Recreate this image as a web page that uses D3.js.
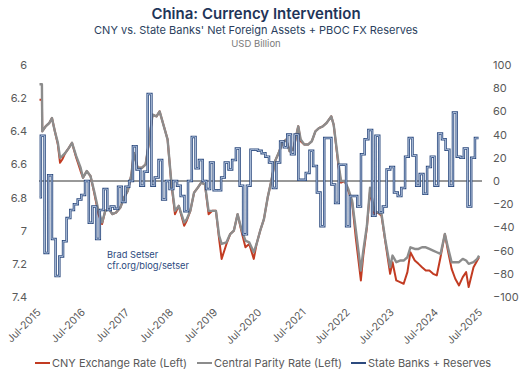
<!DOCTYPE html>
<html><head><meta charset="utf-8">
<script src="https://cdn.jsdelivr.net/npm/d3@7"></script>
<style>
body{margin:0;background:#fff}
svg{display:block}
text{font-family:Inter,'Noto Sans',sans-serif}
</style>
</head><body>
<svg id="chart" width="520" height="378"></svg>
<script>
// ---- Data ----
// State Banks + Reserves, monthly (USD bn), Jul-2015 .. Jun-2025
const blueValues = [
 -14, 39, -62, 5, -50, -82, -65, -52, -32, -25, -20, -16,
 -12, 0, -36, -22, -50, -25, -7, -25, -22, -24, -5, -18,
 -5, 0, 30, 10, -4, 8, 75, -4, 3, 18, -16, 0,
 -7, 0, -4, -13, -26, 0, 38, 11, 18, 0, -7, 16,
 -8, -8, 3, 16, 10, 18, 28, -4, -46, -4, 27, 27,
 26, 24, 21, 16, -6, 16, 34, 29, 40, 23, 40, 1,
 1, 7, 26, 13, -10, -39, 37, 37, -3, -19, 14, 14,
 -39, -13, -13, -22, 23, 36, 44, -30, 39, -27, -22, 10,
 12, -10, -13, -6, 21, 37, 22, -4, 6, -11, 12, 21,
 -4, 41, 36, 27, -4, 59, 21, 20, 28, -22, 20, 37
];
const blueStart = "2015-07-21";
const blueEnd = "2025-07-01";

// CNY exchange rate and central parity (CNY per USD)
const fxDates = [
 "2015-07-21","2015-08-10","2015-08-13","2015-09-10","2015-10-10","2015-11-01","2015-11-25","2015-12-20",
 "2016-01-07","2016-01-25","2016-02-20","2016-03-20","2016-04-15","2016-05-20","2016-06-25","2016-07-15",
 "2016-08-15","2016-09-15","2016-10-15","2016-11-20","2016-12-20","2017-01-15","2017-02-15","2017-03-15",
 "2017-04-15","2017-05-20","2017-06-20","2017-07-20","2017-08-20","2017-09-08","2017-10-10","2017-11-15",
 "2017-12-15","2018-01-15","2018-02-10","2018-03-15","2018-04-10","2018-05-15","2018-06-15","2018-07-15",
 "2018-08-15","2018-09-15","2018-10-30","2018-11-20","2018-12-20","2019-01-20","2019-02-20","2019-03-20",
 "2019-04-20","2019-05-20","2019-06-20","2019-07-20","2019-08-15","2019-09-05","2019-10-15","2019-11-15",
 "2019-12-15","2020-01-15","2020-02-15","2020-03-20","2020-04-20","2020-05-28","2020-06-20","2020-07-20",
 "2020-08-20","2020-09-20","2020-10-20","2020-11-20","2020-12-20","2021-01-20","2021-02-20","2021-03-20",
 "2021-04-20","2021-05-31","2021-06-20","2021-07-20","2021-08-20","2021-09-20","2021-10-20","2021-11-20",
 "2021-12-20","2022-01-20","2022-02-28","2022-03-20","2022-04-30","2022-05-20","2022-06-20","2022-07-20",
 "2022-08-20","2022-09-20","2022-10-31","2022-11-20","2022-12-20","2023-01-15","2023-02-20","2023-03-20",
 "2023-04-20","2023-05-20","2023-06-30","2023-07-20","2023-08-20","2023-09-20","2023-10-20","2023-11-20",
 "2023-12-15","2024-01-20","2024-02-20","2024-03-20","2024-04-20","2024-05-20","2024-06-20","2024-07-20",
 "2024-08-20","2024-09-25","2024-10-20","2024-11-20","2024-12-20","2025-01-20","2025-02-20","2025-03-20",
 "2025-04-10","2025-05-20","2025-06-20","2025-07-05"
];
const parityRate = [
 6.116,6.116,6.40,6.37,6.35,6.32,6.40,6.47,
 6.56,6.55,6.53,6.50,6.47,6.55,6.62,6.68,
 6.64,6.67,6.76,6.88,6.95,6.88,6.87,6.90,
 6.89,6.86,6.80,6.76,6.66,6.53,6.62,6.62,
 6.60,6.45,6.30,6.31,6.28,6.37,6.45,6.70,
 6.88,6.85,6.95,6.93,6.88,6.77,6.74,6.71,
 6.72,6.88,6.88,6.88,7.03,7.08,7.07,7.02,
 7.00,6.90,6.99,7.06,7.07,7.13,7.08,7.00,
 6.93,6.80,6.70,6.58,6.53,6.47,6.45,6.52,
 6.51,6.37,6.45,6.48,6.48,6.46,6.40,6.38,
 6.37,6.35,6.31,6.36,6.60,6.70,6.70,6.75,
 6.82,7.00,7.24,7.12,6.97,6.74,6.88,6.89,
 6.90,7.05,7.22,7.15,7.19,7.18,7.18,7.16,
 7.10,7.11,7.11,7.10,7.10,7.11,7.12,7.13,
 7.14,7.02,7.10,7.19,7.19,7.19,7.17,7.18,
 7.20,7.19,7.17,7.15
];
const cnyRate = [
 6.210,6.210,6.40,6.37,6.35,6.32,6.40,6.48,
 6.59,6.57,6.53,6.50,6.47,6.56,6.64,6.68,
 6.64,6.67,6.77,6.90,6.96,6.88,6.87,6.90,
 6.89,6.86,6.80,6.76,6.66,6.53,6.62,6.62,
 6.60,6.45,6.30,6.31,6.28,6.37,6.45,6.71,
 6.90,6.85,6.97,6.94,6.88,6.77,6.74,6.71,
 6.72,6.90,6.88,6.88,7.05,7.17,7.08,7.02,
 7.00,6.90,7.00,7.10,7.08,7.17,7.08,7.00,
 6.93,6.80,6.70,6.58,6.53,6.47,6.45,6.52,
 6.51,6.37,6.46,6.48,6.48,6.46,6.40,6.38,
 6.37,6.35,6.31,6.36,6.62,6.71,6.70,6.76,
 6.83,7.05,7.30,7.15,6.98,6.76,6.90,6.89,
 6.91,7.06,7.26,7.19,7.30,7.31,7.32,7.25,
 7.13,7.18,7.20,7.22,7.24,7.24,7.26,7.27,
 7.16,7.02,7.12,7.23,7.29,7.33,7.28,7.25,
 7.34,7.22,7.18,7.16
];

const leftTicks = [6, 6.2, 6.4, 6.6, 6.8, 7, 7.2, 7.4];
const rightTicks = [100, 80, 60, 40, 20, 0, -20, -40, -60, -80, -100];
const xTickLabels = ["Jul-2015","Jul-2016","Jul-2017","Jul-2018","Jul-2019","Jul-2020","Jul-2021","Jul-2022","Jul-2023","Jul-2024","Jul-2025"];
const legendLabels = ["CNY Exchange Rate (Left)", "Central Parity Rate (Left)", "State Banks + Reserves"];

// ---- Styles ----
const C = {
  red: "#c23b22", gray: "#8c8c8c", blue: "#2c4a7e", blueInner: "#c9d8ee",
  navy: "#1f3559", axisText: "#595959", zero: "#333333"
};

const svg = d3.select("#chart");
const parse = d3.timeParse("%Y-%m-%d");

const x = d3.scaleTime()
  .domain([parse("2015-07-21"), parse("2025-07-21")])
  .range([39.5, 481]);
const yL = d3.scaleLinear().domain([6, 7.4]).range([65, 297]);
const yR = d3.scaleLinear().domain([-100, 100]).range([297, 65]);

// Titles
svg.append("text").attr("x", 256).attr("y", 19).attr("text-anchor", "middle")
  .attr("font-size", 15).attr("font-weight", 600).attr("fill", C.navy)
  .text("China: Currency Intervention");
svg.append("text").attr("x", 256).attr("y", 34).attr("text-anchor", "middle")
  .attr("font-size", 11).attr("fill", "#2b3f5e")
  .text("CNY vs. State Banks' Net Foreign Assets + PBOC FX Reserves");
svg.append("text").attr("x", 256).attr("y", 47).attr("text-anchor", "middle")
  .attr("font-size", 9.5).attr("fill", "#7a7a7a")
  .text("USD Billion");

// Axes
const axL = svg.append("g").attr("transform", "translate(30,0)")
  .call(d3.axisLeft(yL).tickValues(leftTicks).tickSize(0).tickPadding(3).tickFormat(d3.format("")));
const axR = svg.append("g").attr("transform", "translate(490,0)")
  .call(d3.axisRight(yR).tickValues(rightTicks).tickSize(0).tickPadding(3).tickFormat(d3.format("")));
[axL, axR].forEach(a => {
  a.select(".domain").remove();
  a.selectAll("text").attr("font-size", 11).attr("fill", C.axisText).attr("font-family", "Inter,'Noto Sans',sans-serif");
});

// X tick labels (rotated)
const xt = svg.append("g");
xTickLabels.forEach((lab, i) => {
  const d = new Date(2015 + i, 6, 21);
  const px = x(d);
  xt.append("text")
    .attr("transform", `translate(${px + 2},${313}) rotate(-45)`)
    .attr("text-anchor", "end")
    .attr("font-size", 10.5).attr("fill", C.axisText)
    .text(lab);
});

// Zero line
svg.append("line").attr("x1", 39).attr("x2", 482)
  .attr("y1", yR(0)).attr("y2", yR(0))
  .attr("stroke", C.zero).attr("stroke-width", 1);

// FX lines
const fx = fxDates.map((d, i) => ({ date: parse(d), cny: cnyRate[i], par: parityRate[i] }));
svg.append("path").datum(fx)
  .attr("fill", "none").attr("stroke", C.red).attr("stroke-width", 2)
  .attr("stroke-linejoin", "round")
  .attr("d", d3.line().x(d => x(d.date)).y(d => yL(d.cny)));
svg.append("path").datum(fx)
  .attr("fill", "none").attr("stroke", C.gray).attr("stroke-width", 2.4)
  .attr("stroke-linejoin", "round")
  .attr("d", d3.line().x(d => x(d.date)).y(d => yL(d.par)));

// Blue step line
const blue = blueValues.map((v, i) => ({
  date: i === 0 ? parse(blueStart) : d3.timeMonth.offset(new Date(2015, 7, 1), i - 1),
  v
}));
blue.push({ date: parse(blueEnd), v: blueValues[blueValues.length - 1] });
const stepLine = d3.line().curve(d3.curveStepAfter).x(d => x(d.date)).y(d => yR(d.v));
svg.append("path").datum(blue)
  .attr("fill", "none").attr("stroke", C.blue).attr("stroke-width", 2.5)
  .attr("stroke-linejoin", "miter").attr("d", stepLine);
svg.append("path").datum(blue)
  .attr("fill", "none").attr("stroke", C.blueInner).attr("stroke-width", 0.8)
  .attr("d", stepLine);

// Annotation
svg.append("text").attr("x", 107).attr("y", 258).attr("font-size", 9.3).attr("fill", "#2c4a7e").text("Brad Setser");
svg.append("text").attr("x", 107).attr("y", 268.5).attr("font-size", 9.3).attr("fill", "#2c4a7e").text("cfr.org/blog/setser");

// Legend
const legColors = [C.red, C.gray, C.blue];
const legX = [35, 197, 351];
const lg = svg.append("g");
legendLabels.forEach((lab, i) => {
  lg.append("line").attr("x1", legX[i]).attr("x2", legX[i] + 15)
    .attr("y1", 363).attr("y2", 363)
    .attr("stroke", legColors[i]).attr("stroke-width", 2);
  lg.append("text").attr("x", legX[i] + 17).attr("y", 367)
    .attr("font-size", 11).attr("fill", C.axisText).text(lab);
});
</script>
</body></html>
